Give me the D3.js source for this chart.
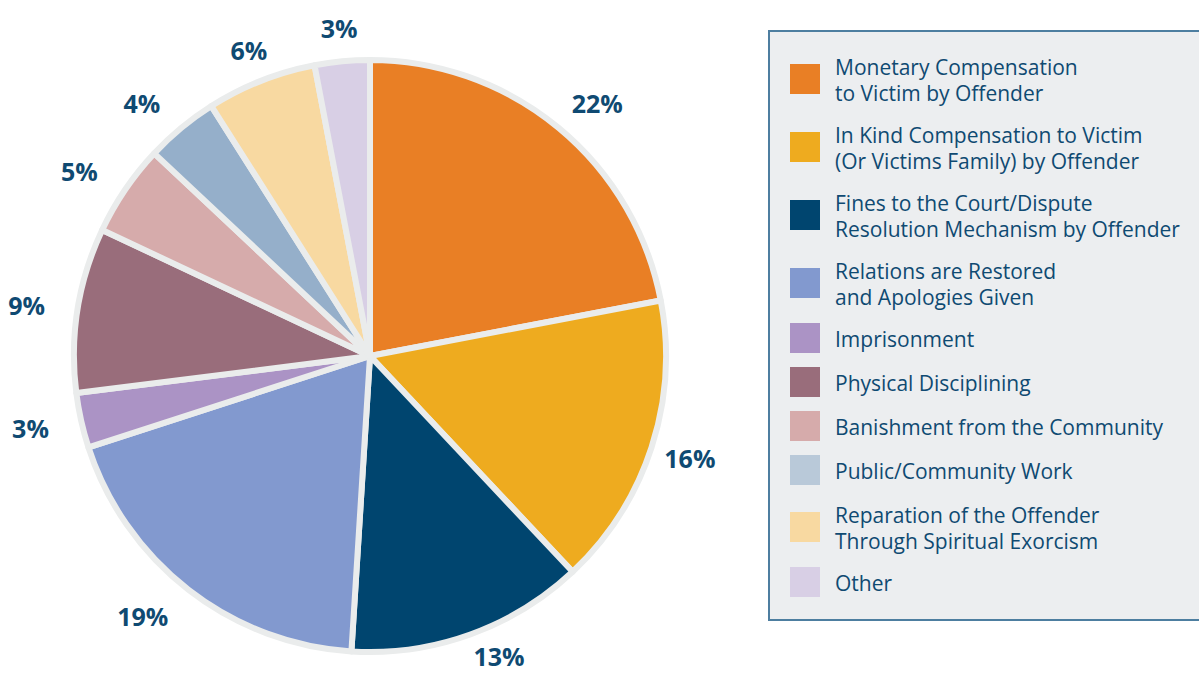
<!DOCTYPE html>
<html>
<head>
<meta charset="utf-8">
<script src="https://cdn.jsdelivr.net/npm/d3@7"></script>
<style>
  body { margin: 0; background: #fff; }
  svg { display: block; }
</style>
</head>
<body>
<svg width="1199" height="673"></svg>
<script>
const categories = [
    ['Monetary Compensation', 'to Victim by Offender'],
    ['In Kind Compensation to Victim', '(Or Victims Family) by Offender'],
    ['Fines to the Court/Dispute', 'Resolution Mechanism by Offender'],
    ['Relations are Restored', 'and Apologies Given'],
    ['Imprisonment'],
    ['Physical Disciplining'],
    ['Banishment from the Community'],
    ['Public/Community Work'],
    ['Reparation of the Offender', 'Through Spiritual Exorcism'],
    ['Other']
];
const shares = [22, 16, 13, 19, 3, 9, 5, 4, 6, 3];
const sliceColors = ['#e97f25', '#eeab1f', '#00456f', '#8299cf', '#ab93c5',
    '#996d7b', '#d6abab', '#95afca', '#f8d9a1', '#d8cfe5'];
const swatchColors = ['#e97f25', '#eeab1f', '#00456f', '#8299cf', '#ab93c5',
    '#996d7b', '#d6abab', '#b9c9d9', '#f8d9a1', '#d8cfe5'];

const svg = d3.select('svg');
const textColor = '#0f4a72';
const cx = 370;
const cy = 356;
const radius = 296;

const pie = d3.pie().sort(null).value(function (d) {
    return d;
});
const arcs = pie(shares);
const arc = d3.arc().innerRadius(0).outerRadius(radius);
const labelArc = d3.arc().innerRadius(329).outerRadius(329);

const pieG = svg.append('g').attr('transform', `translate(${cx},${cy})`);

pieG.selectAll('path')
    .data(arcs)
    .enter().append('path')
    .attr('d', arc)
    .attr('fill', function (d, i) {
        return sliceColors[i];
    })
    .attr('stroke', '#eaecec')
    .attr('stroke-width', 6)
    .attr('stroke-linejoin', 'round');

// left-hand labels end at the label ring, right-hand ones start just inside it
function labelPos(d) {
    const c = labelArc.centroid(d);
    const y = Math.min(c[1], 300);
    if (c[0] < 0) return {x: c[0], y: y, anchor: c[1] < -300 ? 'middle' : 'end'};
    const s = Math.sin((d.startAngle + d.endAngle) / 2);
    return {x: c[0] - 8 - 14 * Math.max(0, s - 0.8) / 0.2, y: y, anchor: 'start'};
}

pieG.selectAll('text')
    .data(arcs)
    .enter().append('text')
    .attr('x', function (d) {
        return labelPos(d).x;
    })
    .attr('y', function (d) {
        return labelPos(d).y;
    })
    .attr('text-anchor', function (d) {
        return labelPos(d).anchor;
    })
    .attr('dominant-baseline', 'central')
    .attr('font-family', 'Open Sans, sans-serif')
    .attr('font-weight', 700)
    .attr('font-size', 25)
    .attr('fill', textColor)
    .text(function (d) {
        return d.data + '%';
    });

// legend
const legend = svg.append('g');
legend.append('rect')
    .attr('x', 769)
    .attr('y', 31)
    .attr('width', 440)
    .attr('height', 589)
    .attr('fill', '#eceef0')
    .attr('stroke', '#4d7ea0')
    .attr('stroke-width', 2);

let baseline = 75;
categories.forEach(function (lines, i) {
    const item = legend.append('g');
    const center = baseline - 9 + (lines.length - 1) * 13;
    item.append('rect')
        .attr('x', 790)
        .attr('y', center - 15)
        .attr('width', 30)
        .attr('height', 30)
        .attr('fill', swatchColors[i]);
    lines.forEach(function (line, j) {
        item.append('text')
            .attr('x', 835)
            .attr('y', baseline + j * 26)
            .attr('font-family', 'Open Sans, sans-serif')
            .attr('font-size', 21)
            .attr('fill', textColor)
            .text(line);
    });
    baseline += lines.length === 2 ? 68 : 44;
});
</script>
</body>
</html>
